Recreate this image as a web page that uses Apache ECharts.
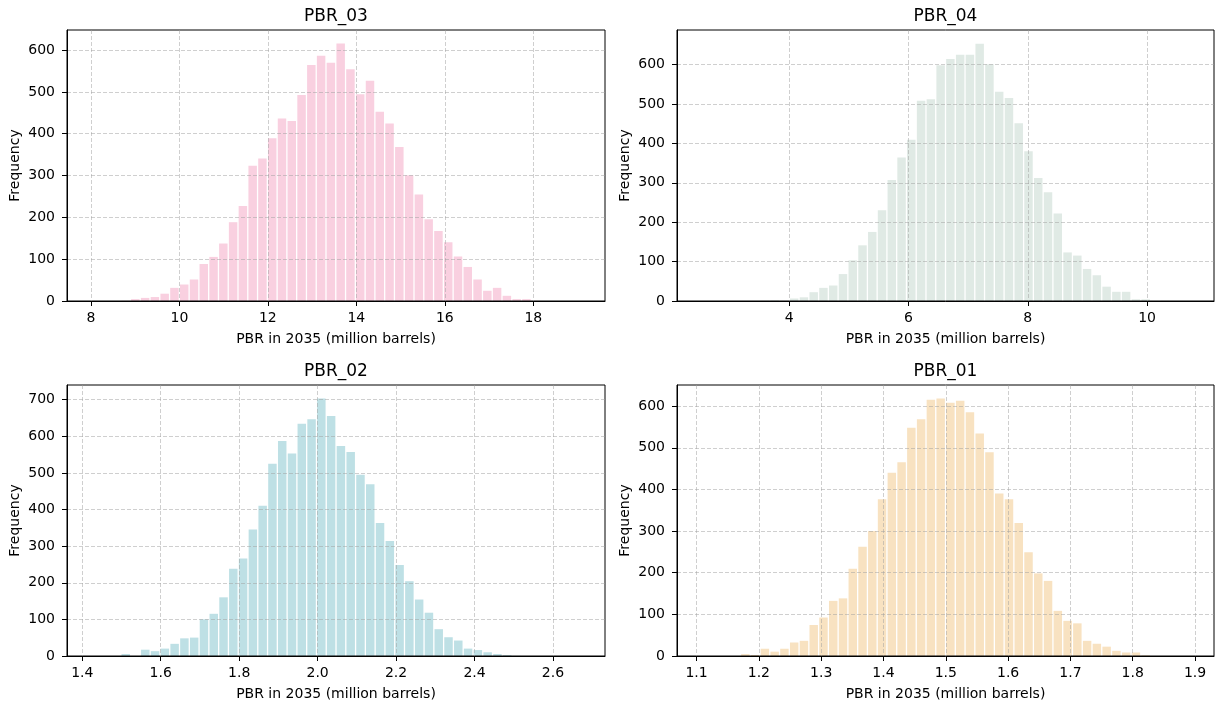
<!DOCTYPE html>
<html>
<head>
<meta charset="utf-8">
<script src="https://cdn.jsdelivr.net/npm/echarts@6/dist/echarts.min.js"></script>
<style>
html,body{margin:0;padding:0;background:#fff;}
#chart{width:1215px;height:704px;}
</style>
</head>
<body>
<div id="chart"></div>
<script>
// ---- data (histogram counts, 50 equal-width bins each) ----
const titles = ['PBR_03', 'PBR_04', 'PBR_02', 'PBR_01'];

const counts03 = [1,0,0,2,
  6,9,11,19,33,41,53,90,107,139,190,229,325,342,391,438,432,494,566,588,571,617,
  556,496,528,454,426,370,302,256,197,169,142,108,83,53,26,33,14,6,6,
  2,1,1,0,1];
const counts04 = [1,0,0,0,1,1,
  2,3,2,
  8,11,24,35,41,70,105,143,177,232,309,366,411,510,514,600,616,
  627,627,655,603,533,517,453,382,314,278,224,125,117,83,67,38,25,25,6,6,1,2,0,1];
const counts02 = [1,0,0,
  7,0,
  19,15,22,35,50,52,102,117,162,240,268,347,412,527,589,555,636,648,705,657,575,
  559,497,471,365,316,250,206,156,120,75,53,44,22,18,12,7,4,
  2,1,1,0,0,0,1];
const counts01 = [1,0,0,1,
  6,4,19,12,19,34,38,76,94,134,140,211,264,302,378,442,467,550,570,617,620,610,
  615,587,536,491,392,378,321,251,200,182,110,86,80,38,31,24,14,10,10,3,
  1,1,0,1];

// first bin edge and bin width per panel
const binStart = [8.01, 2.528, 1.4234, 1.1078];
const binWidth = [0.221, 0.1637, 0.02494, 0.01567];

// axis limits
const xMin = [7.46, 2.119, 1.361, 1.0686];
const xMax = [19.62, 11.122, 2.7327, 1.9304];
const yMax = [648, 688, 740, 651];

// tick labels
const xTicks03 = [8, 10, 12, 14, 16, 18];
const xTicks04 = [4, 6, 8, 10];
const xTicks02 = [1.4, 1.6, 1.8, 2.0, 2.2, 2.4, 2.6];
const xTicks01 = [1.1, 1.2, 1.3, 1.4, 1.5, 1.6, 1.7, 1.8, 1.9];
const yTicks03 = [0, 100, 200, 300, 400, 500, 600];
const yTicks04 = [0, 100, 200, 300, 400, 500, 600];
const yTicks02 = [0, 100, 200, 300, 400, 500, 600, 700];
const yTicks01 = [0, 100, 200, 300, 400, 500, 600];

const xLabelName = 'PBR in 2035 (million barrels)';
const yLabelName = 'Frequency';

// ---- presentation ----
const allCounts = [counts03, counts04, counts02, counts01];
const allXTicks = [xTicks03, xTicks04, xTicks02, xTicks01];
const allYTicks = [yTicks03, yTicks04, yTicks02, yTicks01];
const xDecimals = [0, 0, 1, 1];
const colors = ['#F9D0E0', '#E0EAE5', '#BEE0E5', '#F8E2C1'];
const grids = [
  {left: 67, top: 30, width: 538, height: 271},
  {left: 677, top: 30, width: 537, height: 271},
  {left: 67, top: 385, width: 538, height: 271},
  {left: 677, top: 385, width: 537, height: 271}
];
const FONT = 'DejaVu Sans';
const GAP = 0.65;

const option = {
  animation: false,
  backgroundColor: '#fff',
  title: titles.map((t, i) => ({
    text: t,
    left: grids[i].left + grids[i].width / 2,
    top: grids[i].top - 22,
    textAlign: 'center',
    padding: 0,
    textStyle: {fontSize: 17, fontWeight: 'normal', color: '#000', fontFamily: FONT}
  })),
  grid: grids.map(g => Object.assign({
    show: true, borderColor: '#000', borderWidth: 1, backgroundColor: 'transparent',
    containLabel: false, z: 10
  }, g)),
  xAxis: titles.map((t, i) => ({
    type: 'value',
    gridIndex: i,
    min: xMin[i],
    max: xMax[i],
    z: 10,
    name: xLabelName,
    nameLocation: 'middle',
    nameGap: 31,
    nameTextStyle: {fontSize: 14, color: '#000', fontFamily: FONT},
    axisLine: {show: true, onZero: false, lineStyle: {color: '#000', width: 1}},
    axisTick: {show: true, length: 5, customValues: allXTicks[i], lineStyle: {color: '#000', width: 1}},
    axisLabel: {
      customValues: allXTicks[i], margin: 10, fontSize: 14, color: '#000', fontFamily: FONT,
      formatter: (v) => Number(v).toFixed(xDecimals[i])
    },
    splitLine: {show: true, lineStyle: {color: 'rgba(160,160,160,0.5)', width: 1, type: [4, 2]}}
  })),
  yAxis: titles.map((t, i) => ({
    type: 'value',
    gridIndex: i,
    min: 0,
    max: yMax[i],
    z: 10,
    name: yLabelName,
    nameLocation: 'middle',
    nameGap: 45,
    nameTextStyle: {fontSize: 14, color: '#000', fontFamily: FONT},
    axisLine: {show: true, onZero: false, lineStyle: {color: '#000', width: 1}},
    axisTick: {show: true, length: 5, customValues: allYTicks[i], lineStyle: {color: '#000', width: 1}},
    axisLabel: {customValues: allYTicks[i], margin: 12, fontSize: 14, color: '#000', fontFamily: FONT},
    splitLine: {show: true, lineStyle: {color: 'rgba(160,160,160,0.5)', width: 1, type: [4, 2]}}
  })),
  series: allCounts.map((cts, i) => ({
    type: 'custom',
    xAxisIndex: i,
    yAxisIndex: i,
    z: 1,
    encode: {x: [0, 1], y: 2},
    data: cts.map((c, k) => [binStart[i] + k * binWidth[i], binStart[i] + (k + 1) * binWidth[i], c]),
    renderItem: (params, api) => {
      if (!(api.value(2) > 0)) return null;
      const p0 = api.coord([api.value(0), api.value(2)]);
      const p1 = api.coord([api.value(1), 0]);
      return {
        type: 'rect',
        shape: {
          x: p0[0] + GAP,
          y: p0[1] + GAP,
          width: Math.max(0, p1[0] - p0[0] - 2 * GAP),
          height: Math.max(0, p1[1] - p0[1] - GAP)
        },
        style: {fill: colors[i]}
      };
    }
  }))
};

const chart = echarts.init(document.getElementById('chart'), null, {renderer: 'canvas'});
chart.setOption(option);
</script>
</body>
</html>
